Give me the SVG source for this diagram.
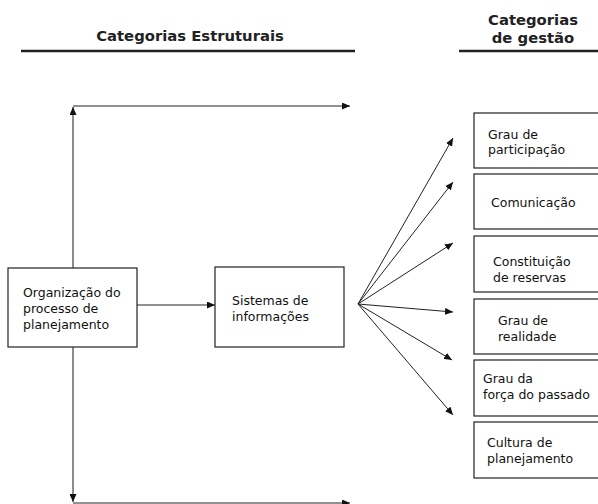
<svg xmlns="http://www.w3.org/2000/svg" width="598" height="504" viewBox="0 0 598 504">
<defs>
<marker id="ah" markerUnits="userSpaceOnUse" markerWidth="9" markerHeight="7" refX="8" refY="3.5" orient="auto">
<path d="M0,0 L8,3.5 L0,7 z" fill="#111"/>
</marker>
<style>
.t{font-family:"DejaVu Sans",Verdana,sans-serif;font-size:12.5px;fill:#111}
.h{font-family:"DejaVu Sans",Verdana,sans-serif;font-size:14.8px;font-weight:bold;fill:#222}
.b{fill:#fff;stroke:#222;stroke-width:1.2}
.c{fill:none;stroke:#222;stroke-width:1}
.v{fill:none;stroke:#666;stroke-width:1.5}
.u{stroke:#222;stroke-width:2.5}
</style>
</defs>
<g id="headers">
<text class="h" x="190" y="41" text-anchor="middle">Categorias Estruturais</text>
<line class="u" x1="21" y1="51" x2="355" y2="51"/>
<text class="h" x="533" y="25" text-anchor="middle">Categorias</text>
<text class="h" x="533" y="43" text-anchor="middle">de gestão</text>
<line class="u" x1="459" y1="51" x2="598" y2="51"/>
</g>
<g id="connectors">
<line class="v" x1="73" y1="268" x2="73" y2="107" marker-end="url(#ah)"/>
<line class="c" x1="73" y1="106" x2="350" y2="106" marker-end="url(#ah)"/>
<line class="v" x1="73" y1="347" x2="73" y2="502" marker-end="url(#ah)"/>
<line class="c" x1="73" y1="503" x2="350" y2="503" marker-end="url(#ah)"/>
<line class="c" x1="137" y1="305" x2="215" y2="305" marker-end="url(#ah)"/>
<line class="c" x1="358" y1="304" x2="453" y2="138" marker-end="url(#ah)"/>
<line class="c" x1="358" y1="304" x2="453" y2="182" marker-end="url(#ah)"/>
<line class="c" x1="358" y1="304" x2="453" y2="243" marker-end="url(#ah)"/>
<line class="c" x1="358" y1="304" x2="453" y2="312" marker-end="url(#ah)"/>
<line class="c" x1="358" y1="304" x2="452" y2="360" marker-end="url(#ah)"/>
<line class="c" x1="358" y1="304" x2="453" y2="415" marker-end="url(#ah)"/>
</g>
<g id="organizacao">
<rect class="b" x="8" y="268" width="129" height="79"/>
<text class="t" x="23" y="297">Organização do</text>
<text class="t" x="23" y="313">processo de</text>
<text class="t" x="23" y="329">planejamento</text>
</g>
<g id="sistemas">
<rect class="b" x="215" y="267" width="129" height="80"/>
<text class="t" x="232" y="305">Sistemas de</text>
<text class="t" x="232" y="321">informações</text>
</g>
<g id="participacao">
<rect class="b" x="474" y="113" width="140" height="55"/>
<text class="t" x="488" y="139">Grau de</text>
<text class="t" x="488" y="154">participação</text>
</g>
<g id="comunicacao">
<rect class="b" x="474" y="174" width="140" height="55"/>
<text class="t" x="491" y="207">Comunicação</text>
</g>
<g id="reservas">
<rect class="b" x="474" y="236" width="140" height="56"/>
<text class="t" x="493" y="266">Constituição</text>
<text class="t" x="493" y="282">de reservas</text>
</g>
<g id="realidade">
<rect class="b" x="474" y="299" width="140" height="55"/>
<text class="t" x="498" y="325">Grau de</text>
<text class="t" x="498" y="341">realidade</text>
</g>
<g id="passado">
<rect class="b" x="474" y="360" width="140" height="56"/>
<text class="t" x="483" y="383">Grau da</text>
<text class="t" x="483" y="399">força do passado</text>
</g>
<g id="cultura">
<rect class="b" x="474" y="422" width="140" height="56"/>
<text class="t" x="487" y="447">Cultura de</text>
<text class="t" x="487" y="463">planejamento</text>
</g>
</svg>
